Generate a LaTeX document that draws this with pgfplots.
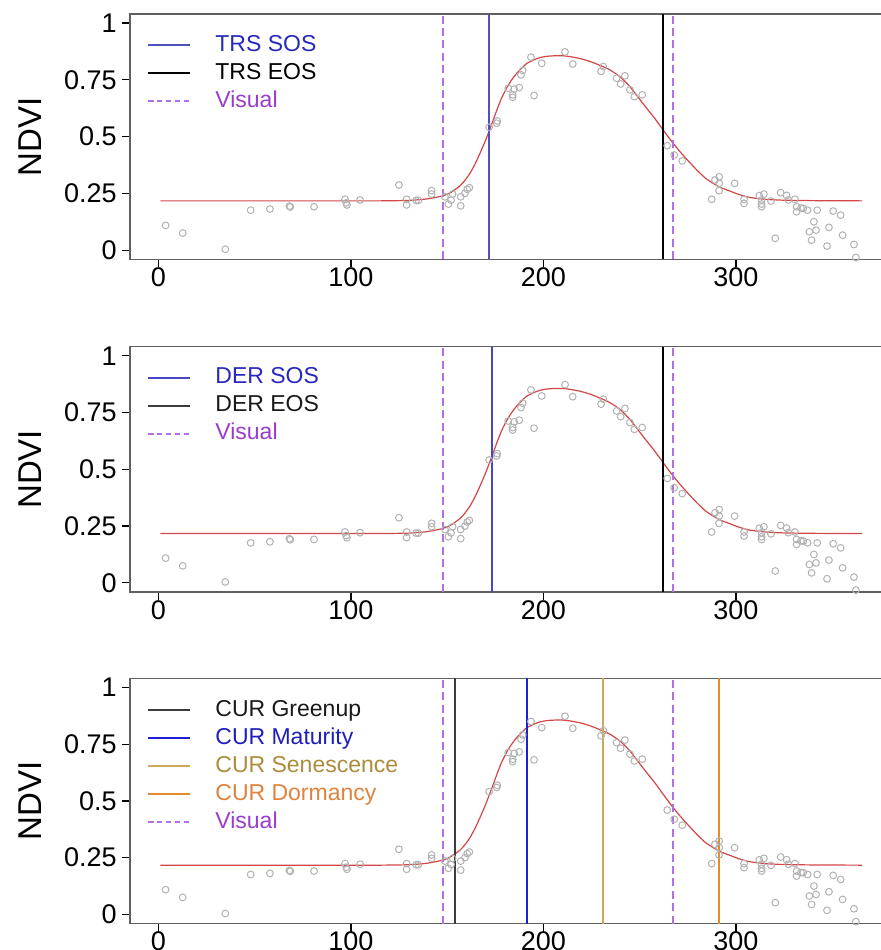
\documentclass[border=0pt]{standalone}
\usepackage{pgfplots}
\pgfplotsset{compat=1.18}
\usepackage{pgfplotstable}
\usepackage{fontspec}
\setmainfont{Liberation Sans}

\definecolor{axgray}{RGB}{96,96,96}
\definecolor{ptgray}{RGB}{178,178,178}
\definecolor{fitred}{RGB}{210,70,70}
\definecolor{sosline}{RGB}{80,80,190}
\definecolor{sostext}{RGB}{40,40,190}
\definecolor{derline}{RGB}{70,70,200}
\definecolor{greenline}{RGB}{60,60,60}
\definecolor{greentext}{RGB}{25,25,25}
\definecolor{matline}{RGB}{30,30,210}
\definecolor{mattext}{RGB}{30,30,190}
\definecolor{senline}{RGB}{205,170,90}
\definecolor{sentext}{RGB}{170,140,60}
\definecolor{orangeD}{HTML}{E38A2C}
\definecolor{orangeT}{HTML}{E0823C}
\definecolor{visline}{RGB}{180,110,230}
\definecolor{vistext}{RGB}{155,60,205}

\pgfplotstableread{
x y
3.7 0.109
12.6 0.075
34.7 0.004
47.9 0.176
57.9 0.181
68.0 0.194
68.5 0.190
80.8 0.191
96.9 0.224
97.9 0.199
97.5 0.208
104.7 0.221
124.9 0.287
128.9 0.224
128.9 0.199
133.8 0.219
135.0 0.219
141.9 0.262
141.9 0.247
148.8 0.235
150.6 0.203
152.0 0.220
152.8 0.247
157.0 0.235
157.0 0.195
159.2 0.250
160.4 0.268
161.5 0.275
171.8 0.541
175.7 0.559
176.0 0.569
181.7 0.713
184.0 0.684
184.0 0.673
184.8 0.709
187.4 0.716
188.3 0.772
189.2 0.791
193.5 0.850
195.1 0.681
199.1 0.823
211.2 0.873
215.2 0.820
229.9 0.787
231.1 0.809
238.0 0.757
240.1 0.732
242.3 0.768
244.9 0.706
247.2 0.676
251.3 0.684
264.3 0.460
267.9 0.419
272.1 0.393
287.4 0.224
289.1 0.309
291.3 0.323
291.3 0.294
291.2 0.262
299.3 0.294
304.2 0.224
304.2 0.206
312.1 0.240
313.3 0.221
313.3 0.203
313.3 0.191
314.5 0.247
318.2 0.216
320.4 0.052
323.2 0.253
326.3 0.241
327.2 0.221
330.6 0.224
331.5 0.191
331.5 0.169
333.8 0.185
335.0 0.184
337.2 0.176
338.1 0.081
339.3 0.044
340.5 0.125
341.6 0.088
342.2 0.176
347.3 0.018
348.3 0.100
350.5 0.172
354.4 0.154
355.4 0.066
361.3 0.025
362.3 -0.032
}\ptsdata

\pgfplotstableread{
x y
1 0.217
60 0.217
100 0.217
115 0.217
130 0.219
140 0.226
148 0.240
152 0.255
156.6 0.283
159 0.305
161.8 0.338
164.5 0.380
167 0.426
169.5 0.475
171.8 0.525
174 0.575
175.7 0.615
178 0.665
180.9 0.715
183.5 0.750
186.1 0.779
188.5 0.800
191.3 0.822
195 0.838
198.2 0.848
202 0.854
206 0.856
210 0.856
214 0.852
219 0.844
224.2 0.831
229 0.815
234.5 0.794
240 0.762
244.9 0.720
249 0.675
253.6 0.625
258 0.578
262.2 0.529
266.5 0.480
270.9 0.434
275 0.395
280 0.350
284 0.318
288 0.295
292 0.276
296.9 0.260
302 0.244
307.3 0.232
315 0.224
324.4 0.220
340 0.218
365.5 0.217
}\fitdata

\pgfplotsset{
  ndvi/.style={
    scale only axis, width=377pt, height=122.6pt,
    xmin=-14.8, xmax=376.9, ymin=-0.04, ymax=1.04,
    xtick={0,100,200,300}, ytick={0,0.25,0.5,0.75,1},
    tick pos=left, tick align=outside, major tick length=4pt,
    axis line style={draw=axgray, line width=0.65pt},
    tick style={black, line width=0.6pt},
    ticklabel style={font=\fontsize{13.5}{16}\selectfont},
    /pgf/number format/assume math mode=true,
    yticklabel style={anchor=east, inner sep=0pt, xshift=-2.5pt},
    xticklabel style={anchor=north, inner sep=0pt, yshift=0pt},
    ylabel={NDVI},
    every axis y label/.style={at={(axis description cs:-0.1318,0.5)}, anchor=center, rotate=90, font=\fontsize{16.5}{19}\selectfont},
    legend cell align=left,
    legend style={fill=none, draw opacity=0, at={(axis description cs:0,1)}, anchor=north west,
      xshift=8.5pt, yshift=-8.4pt, inner sep=0pt, row sep=0pt,
      font=\fontsize{11.5}{13}\selectfont,
      nodes={text height=8.5pt, text depth=2.5pt, inner sep=1.5pt},
      /tikz/every odd column/.append style={column sep=10.5pt}},
  },
  pts/.style={only marks, mark=o, mark size=1.7pt, mark options={draw=ptgray, line width=0.5pt}, forget plot},
  fit/.style={fitred, line width=0.6pt, smooth, tension=0.4, forget plot},
  vis/.style={visline, line width=1pt, dash pattern=on 4pt off 2.2pt},
  vleg/.style={legend image code/.code={\draw[draw=#1, draw opacity=1, line width=1pt] (0pt,0pt) -- (21pt,0pt);}},
  vlegd/.style={legend image code/.code={\draw[draw=#1, draw opacity=1, line width=1pt, dash pattern=on 2.6pt off 1.8pt] (0pt,0pt) -- (21pt,0pt);}},
}

\begin{document}
\begin{tikzpicture}
% Panel 1
\begin{axis}[ndvi, at={(65pt,-7pt)}, anchor=north west]
\addplot[pts] table[x=x,y=y] {\ptsdata};
\addplot[fit] table[x=x,y=y] {\fitdata};
\addplot[draw=sosline, line width=1.1pt, vleg=sosline] coordinates {(171.9,-0.04) (171.9,1.04)};
\addlegendentry{\textcolor{sostext}{TRS SOS}}
\addplot[draw=black, line width=1pt, vleg=black] coordinates {(262.2,-0.04) (262.2,1.04)};
\addlegendentry{TRS EOS}
\addplot[vis, vlegd=visline] coordinates {(148.0,-0.04) (148.0,1.04)};
\addlegendentry{\textcolor{vistext}{Visual}}
\addplot[vis, forget plot] coordinates {(267.1,-0.04) (267.1,1.04)};
\end{axis}
% Panel 2
\begin{axis}[ndvi, at={(65pt,-173.35pt)}, anchor=north west]
\addplot[pts] table[x=x,y=y] {\ptsdata};
\addplot[fit] table[x=x,y=y] {\fitdata};
\addplot[draw=derline, line width=1.1pt, vleg=derline] coordinates {(173.1,-0.04) (173.1,1.04)};
\addlegendentry{\textcolor{sostext}{DER SOS}}
\addplot[draw=black, line width=1pt, vleg=greenline] coordinates {(262.2,-0.04) (262.2,1.04)};
\addlegendentry{\textcolor{greentext}{DER EOS}}
\addplot[vis, vlegd=visline] coordinates {(148.0,-0.04) (148.0,1.04)};
\addlegendentry{\textcolor{vistext}{Visual}}
\addplot[vis, forget plot] coordinates {(267.4,-0.04) (267.4,1.04)};
\end{axis}
% Panel 3
\begin{axis}[ndvi, at={(65pt,-339.15pt)}, anchor=north west, legend style={yshift=-0.25pt}]
\addplot[pts] table[x=x,y=y] {\ptsdata};
\addplot[fit] table[x=x,y=y] {\fitdata};
\addplot[draw=greenline, line width=1pt, vleg=greenline] coordinates {(154.0,-0.04) (154.0,1.04)};
\addlegendentry{\textcolor{greentext}{CUR Greenup}}
\addplot[draw=matline, line width=1pt, vleg=matline] coordinates {(191.2,-0.04) (191.2,1.04)};
\addlegendentry{\textcolor{mattext}{CUR Maturity}}
\addplot[draw=senline, line width=1.1pt, vleg=senline] coordinates {(231.1,-0.04) (231.1,1.04)};
\addlegendentry{\textcolor{sentext}{CUR Senescence}}
\addplot[draw=orangeD, line width=1pt, vleg=orangeD] coordinates {(291.4,-0.04) (291.4,1.04)};
\addlegendentry{\textcolor{orangeT}{CUR Dormancy}}
\addplot[vis, vlegd=visline] coordinates {(148.0,-0.04) (148.0,1.04)};
\addlegendentry{\textcolor{vistext}{Visual}}
\addplot[vis, forget plot] coordinates {(267.2,-0.04) (267.2,1.04)};
\end{axis}
\pgfresetboundingbox
\path[use as bounding box] (0,0) rectangle (440.5pt,-475pt);
\end{tikzpicture}
\end{document}
